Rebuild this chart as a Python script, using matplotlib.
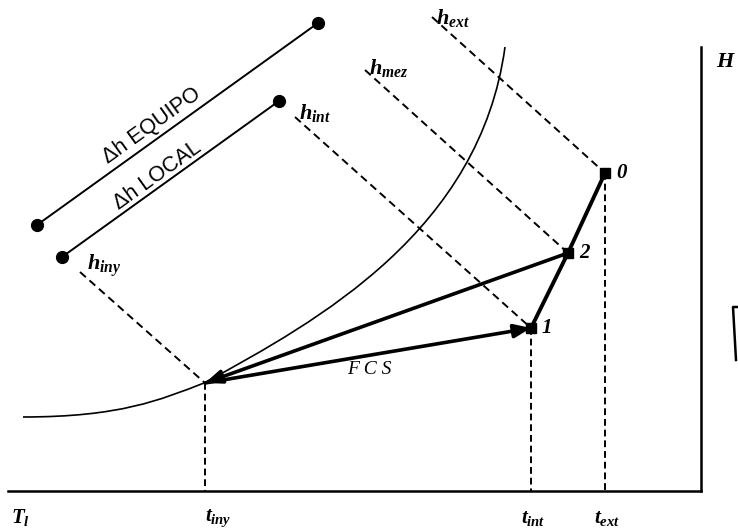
import matplotlib
matplotlib.use('Agg')
import matplotlib.pyplot as plt
from matplotlib.path import Path
from matplotlib.patches import PathPatch

plt.rcParams['mathtext.fontset'] = 'custom'
plt.rcParams['mathtext.it'] = 'Liberation Serif:italic:bold'
plt.rcParams['mathtext.rm'] = 'Liberation Serif:bold'

# diagram coordinates (drawing units, y grows downward)
# saturation curve as bezier nodes: start, ctrl, ctrl, end, ctrl, ctrl, end
sat_x = [23, 120, 160, 204, 320, 480, 505]
sat_y = [417, 417, 400, 383, 320, 230, 47]

state_names = ['0', '2', '1']
state_x = [605, 568, 531]
state_y = [173, 253, 328]
iny_x, iny_y = 205, 383

# enthalpy lines: start point (label end) and end point
h_names = ['ext', 'mez', 'int', 'iny']
h_start_x = [432, 365, 295, 80]
h_start_y = [17, 70, 117, 272]
h_end_x = [605, 568, 531, 205]
h_end_y = [173, 253, 328, 383]
h_label_x = [436, 369, 299, 87]
h_label_y = [18, 68, 113, 266]

# delta-h scale bars
dh_names = ['EQUIPO', 'LOCAL']
dh_x0 = [37, 62]
dh_y0 = [225, 257]
dh_x1 = [318, 279]
dh_y1 = [23, 101]
dh_label_x = [152, 158]
dh_label_y = [126, 176]

# temperature marks on the axis
t_names = ['T_l', 't_{iny}', 't_{int}', 't_{ext}']
t_x = [20, 218, 533, 607]
drop_x = [iny_x, state_x[2], state_x[0]]
drop_y = [iny_y, state_y[2], state_y[0]]
axis_y = 491
axis_x0, axis_x1 = 8, 701
h_axis_top = 47

fig = plt.figure(figsize=(7.38, 5.29), dpi=100)
ax = fig.add_axes([0, 0, 1, 1])
ax.set_xlim(0, 738)
ax.set_ylim(529, 0)
ax.axis('off')

# frame: bottom axis and right H axis
ax.plot([axis_x0, axis_x1], [axis_y, axis_y], color='black', lw=1.8)
ax.plot([axis_x1, axis_x1], [h_axis_top, axis_y], color='black', lw=1.8)
ax.text(725, 62, 'H', fontsize=16, family='Liberation Serif', style='italic',
        weight='bold', ha='center', va='center')
# small bracket mark at right edge
ax.plot([738, 733, 736], [307, 307, 360], color='black', lw=1.8)

# saturation curve
codes = [Path.MOVETO] + [Path.CURVE4] * 6
sat = Path(list(zip(sat_x, sat_y)), codes)
ax.add_patch(PathPatch(sat, fill=False, edgecolor='black', lw=1.2))

# enthalpy dashed lines and labels
for i in range(len(h_names)):
    ax.plot([h_start_x[i], h_end_x[i]], [h_start_y[i], h_end_y[i]],
            color='black', lw=1.4, ls=(0, (4, 2.5)))
    ax.text(h_label_x[i], h_label_y[i], r'$h_{%s}$' % h_names[i], fontsize=16,
            ha='left', va='center')

# vertical dashed drops to the axis
for x, y in zip(drop_x, drop_y):
    ax.plot([x, x], [y, axis_y], color='black', lw=1.4, ls=(0, (3.5, 2)))

# temperature labels
for x, name in zip(t_x, t_names):
    ax.text(x, 518, r'$%s$' % name, fontsize=15, ha='center', va='center')

# delta-h bars
for i in range(len(dh_names)):
    ax.plot([dh_x0[i], dh_x1[i]], [dh_y0[i], dh_y1[i]], color='black', lw=1.4,
            marker='o', ms=8.5, markevery=[0, 1])
    ax.text(dh_label_x[i], dh_label_y[i], 'Δh ' + dh_names[i],
            fontsize=15.5, family='Liberation Sans', rotation=35.7,
            rotation_mode='anchor', ha='center', va='center')

# process lines 0-2-1
ax.plot(state_x, state_y, color='black', lw=2.8, solid_capstyle='butt')
ax.plot(state_x, state_y, ls='none', marker='s', ms=7, color='black')
for name, x, y in zip(state_names, state_x, state_y):
    ax.text(x + 11, y, name, fontsize=15, family='Liberation Serif',
            style='italic', weight='bold', ha='left', va='center')

# line from mixing point 2 to injection point
ax.annotate('', xy=(iny_x, iny_y), xytext=(state_x[1], state_y[1]),
            arrowprops=dict(arrowstyle='-|>,head_length=1.0,head_width=0.4',
                            color='black', lw=2.6, shrinkA=0, shrinkB=0))
# FCS line from injection to room point 1
ax.annotate('', xy=(state_x[2], state_y[2]), xytext=(iny_x, iny_y),
            arrowprops=dict(arrowstyle='-|>,head_length=1.0,head_width=0.4',
                            color='black', lw=2.6, shrinkA=0, shrinkB=0))
ax.text(369, 369, 'F C S', fontsize=14, family='Liberation Serif', style='italic',
        ha='center', va='center')

fig.savefig('out.png', dpi=100)
